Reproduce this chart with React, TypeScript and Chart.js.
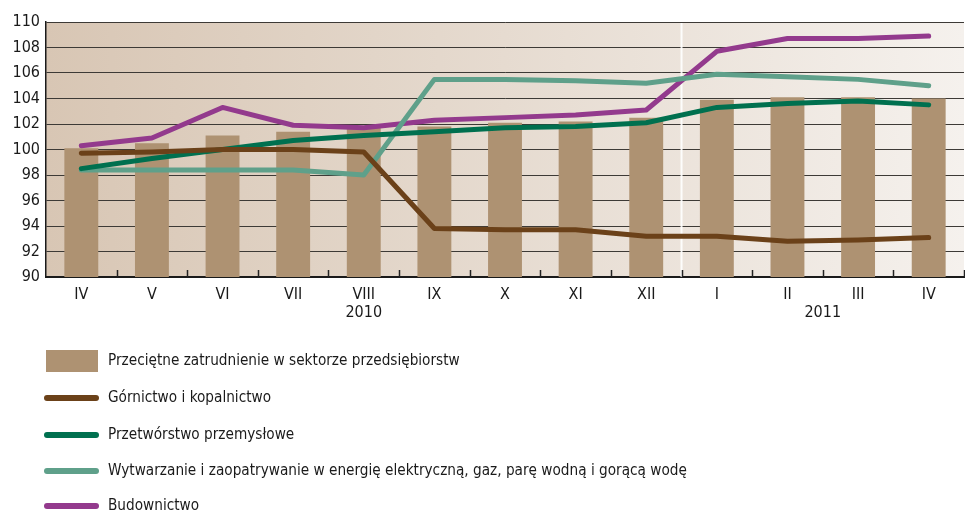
import React, { useEffect, useRef } from "react";
import { Chart, registerables } from "chart.js";

Chart.register(...registerables);

const months = ["IV", "V", "VI", "VII", "VIII", "IX", "X", "XI", "XII", "I", "II", "III", "IV"];
const years = [
  { label: "2010", from: 0, to: 8 },
  { label: "2011", from: 9, to: 12 },
];
const zatrudnienie = [100.1, 100.5, 101.1, 101.4, 101.7, 101.8, 102.1, 102.2, 102.5, 103.9, 104.1, 104.1, 104.0];
const gornictwo = [99.7, 99.8, 100.0, 100.0, 99.8, 93.8, 93.7, 93.7, 93.2, 93.2, 92.8, 92.9, 93.1];
const przetworstwo = [98.5, 99.3, 100.0, 100.7, 101.1, 101.4, 101.7, 101.8, 102.1, 103.3, 103.6, 103.8, 103.5];
const wytwarzanie = [98.4, 98.4, 98.4, 98.4, 98.0, 105.5, 105.5, 105.4, 105.2, 105.9, 105.7, 105.5, 105.0];
const budownictwo = [100.3, 100.9, 103.3, 101.9, 101.7, 102.3, 102.5, 102.7, 103.1, 107.7, 108.7, 108.7, 108.9];
const yTicks = [90, 92, 94, 96, 98, 100, 102, 104, 106, 108, 110];

const FONT = "'Liberation Sans Narrow', 'DejaVu Sans Condensed', 'Open Sans', sans-serif";
const C_BAR = "#ae9272";
const C_GORN = "#6b4119";
const C_PRZET = "#00704f";
const C_WYTW = "#5fa08a";
const C_BUD = "#933a8d";

const legendItems = [
  { text: "Przeciętne zatrudnienie w sektorze przedsiębiorstw", color: C_BAR, box: true },
  { text: "Górnictwo i kopalnictwo", color: C_GORN, box: false },
  { text: "Przetwórstwo przemysłowe", color: C_PRZET, box: false },
  { text: "Wytwarzanie i zaopatrywanie w energię elektryczną, gaz, parę wodną i gorącą wodę", color: C_WYTW, box: false },
  { text: "Budownictwo", color: C_BUD, box: false },
];
const legendRowsY = [361, 398, 435, 471, 506];

const decorPlugin = {
  id: "decor",
  beforeDraw(chart: any) {
    const { ctx, chartArea: a } = chart;
    const g = ctx.createLinearGradient(a.left, 0, a.right, 0);
    g.addColorStop(0, "#d8c6b4");
    g.addColorStop(0.5, "#e6dbd0");
    g.addColorStop(1, "#f5f1ed");
    ctx.save();
    ctx.fillStyle = g;
    ctx.fillRect(a.left, a.top, a.right - a.left, a.bottom - a.top);
    ctx.restore();
  },
  beforeDatasetsDraw(chart: any) {
    const { ctx, chartArea: a, scales } = chart;
    const x = scales.x;
    const bx = (x.getPixelForValue(8) + x.getPixelForValue(9)) / 2;
    ctx.save();
    ctx.strokeStyle = "rgba(255,255,255,0.9)";
    ctx.lineWidth = 2;
    ctx.beginPath();
    ctx.moveTo(bx, a.top + 1);
    ctx.lineTo(bx, a.bottom);
    ctx.stroke();
    ctx.restore();
  },
  afterDraw(chart: any) {
    const { ctx, chartArea: a, scales } = chart;
    const x = scales.x;
    const step = x.getPixelForValue(1) - x.getPixelForValue(0);
    ctx.save();
    // category boundary ticks
    ctx.strokeStyle = "#222";
    ctx.lineWidth = 1.5;
    for (let i = 0; i < months.length; i++) {
      const px = Math.round(x.getPixelForValue(i) + step / 2) + 0.5;
      ctx.beginPath();
      ctx.moveTo(px, a.bottom);
      ctx.lineTo(px, a.bottom - 7);
      ctx.stroke();
    }
    // year labels
    ctx.fillStyle = "#1a1a1a";
    ctx.font = "16px " + FONT;
    ctx.textAlign = "center";
    ctx.textBaseline = "middle";
    years.forEach((y) => {
      const cx = (x.getPixelForValue(y.from) + x.getPixelForValue(y.to)) / 2;
      ctx.fillText(y.label, cx, 313);
    });
    // legend
    ctx.textAlign = "left";
    ctx.font = "15.2px " + FONT;
    legendItems.forEach((it, i) => {
      const cy = legendRowsY[i];
      if (it.box) {
        ctx.fillStyle = it.color;
        ctx.fillRect(46, cy - 11, 52, 22);
      } else {
        ctx.strokeStyle = it.color;
        ctx.lineWidth = 6;
        ctx.lineCap = "round";
        ctx.beginPath();
        ctx.moveTo(47, cy);
        ctx.lineTo(96, cy);
        ctx.stroke();
      }
      ctx.fillStyle = "#1a1a1a";
      ctx.fillText(it.text, 108, cy);
    });
    ctx.restore();
  },
};

const lineDs = (label: string, data: number[], color: string) => ({
  type: "line" as const,
  label,
  data,
  borderColor: color,
  backgroundColor: color,
  borderWidth: 5,
  pointRadius: 0,
  tension: 0,
  borderCapStyle: "round" as const,
  borderJoinStyle: "round" as const,
  order: 0,
});

export default function App() {
  const ref = useRef<HTMLCanvasElement | null>(null);
  useEffect(() => {
    if (!ref.current) return;
    const chart = new Chart(ref.current, {
      type: "bar",
      data: {
        labels: months,
        datasets: [
          {
            type: "bar",
            label: legendItems[0].text,
            data: zatrudnienie,
            backgroundColor: C_BAR,
            categoryPercentage: 1,
            barPercentage: 0.48,
            order: 5,
          },
          lineDs(legendItems[1].text, gornictwo, C_GORN),
          lineDs(legendItems[2].text, przetworstwo, C_PRZET),
          lineDs(legendItems[3].text, wytwarzanie, C_WYTW),
          lineDs(legendItems[4].text, budownictwo, C_BUD),
        ] as any,
      },
      options: {
        animation: false,
        responsive: false,
        maintainAspectRatio: false,
        layout: { padding: { top: 22, right: 1, left: 0, bottom: 0 } },
        plugins: { legend: { display: false }, tooltip: { enabled: false } },
        scales: {
          x: {
            offset: true,
            grid: { display: false, drawTicks: false },
            border: { display: true, color: "#1a1a1a", width: 2 },
            ticks: {
              padding: 8,
              color: "#1a1a1a",
              font: { family: FONT, size: 16 },
              maxRotation: 0,
              autoSkip: false,
            },
            afterFit: (s: any) => {
              s.height = 236;
            },
          },
          y: {
            min: 90,
            max: 110,
            afterBuildTicks: (s: any) => {
              s.ticks = yTicks.map((v) => ({ value: v }));
            },
            grid: { color: "#3d3a36", lineWidth: 1, drawTicks: false },
            border: { display: true, color: "#1a1a1a", width: 1.5 },
            ticks: {
              padding: 6,
              color: "#1a1a1a",
              font: { family: FONT, size: 16 },
            },
            afterFit: (s: any) => {
              s.width = 46;
            },
          },
        },
      },
      plugins: [decorPlugin],
    });
    return () => chart.destroy();
  }, []);
  return (
    <div style={{ position: "fixed", left: 0, top: 0, width: 965, height: 513, background: "#fff" }}>
      <canvas ref={ref} width={965} height={513} style={{ width: 965, height: 513 }} />
    </div>
  );
}
